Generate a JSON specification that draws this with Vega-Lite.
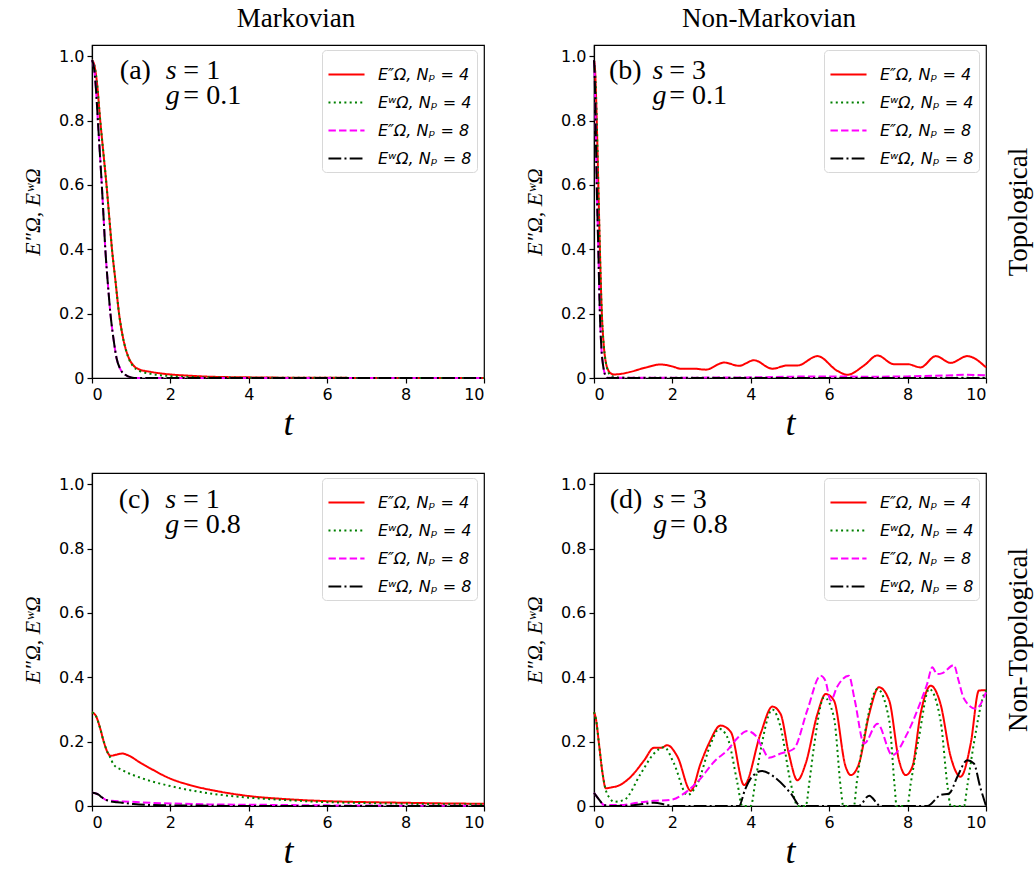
{
  "$schema": "https://vega.github.io/schema/vega-lite/v6.json",
  "background": "white",
  "padding": {"left": 20, "top": 4, "right": 5, "bottom": 5},
  "config": {
    "font": "DejaVu Sans",
    "view": {"stroke": "black", "strokeWidth": 1.2},
    "axis": {"grid": false, "labelFont": "DejaVu Sans", "labelFontSize": 16, "labelColor": "black", "tickColor": "black", "domainColor": "black", "domainWidth": 1.2, "tickSize": 5, "tickWidth": 1.2, "labelPadding": 3, "titleFont": "Liberation Serif", "titleFontStyle": "italic", "titleFontWeight": "normal", "titleColor": "black"},
    "legend": {"orient": "none", "legendX": 230, "legendY": 5, "labelFont": "DejaVu Sans", "labelFontSize": 16, "labelFontStyle": "italic", "labelColor": "black", "symbolType": "stroke", "symbolSize": 1300, "symbolStrokeWidth": 2, "fillColor": "white", "strokeColor": "#d8d8d8", "cornerRadius": 4, "padding": 5, "labelOffset": 12, "rowPadding": -2.2},
    "title": {"font": "Liberation Serif", "fontSize": 27, "fontWeight": "normal", "color": "black", "anchor": "middle"}
  },
  "datasets": {
    "a": [
      {"s":"r","t":0,"v":0.988},{"s":"r","t":0.06,"v":0.972},{"s":"r","t":0.12,"v":0.925},{"s":"r","t":0.21,"v":0.8},{"s":"r","t":0.29,"v":0.7},{"s":"r","t":0.37,"v":0.6},{"s":"r","t":0.44,"v":0.5},{"s":"r","t":0.51,"v":0.4},{"s":"r","t":0.6,"v":0.3},{"s":"r","t":0.69,"v":0.2},{"s":"r","t":0.8,"v":0.12},{"s":"r","t":0.92,"v":0.068},{"s":"r","t":1.05,"v":0.04},{"s":"r","t":1.2,"v":0.027},{"s":"r","t":1.5,"v":0.019},{"s":"r","t":2,"v":0.011},{"s":"r","t":2.5,"v":0.007},{"s":"r","t":3,"v":0.004},{"s":"r","t":4,"v":0.002},{"s":"r","t":6,"v":0.0005},{"s":"r","t":10,"v":0},
      {"s":"g","t":0,"v":0.988},{"s":"g","t":0.06,"v":0.972},{"s":"g","t":0.12,"v":0.925},{"s":"g","t":0.21,"v":0.8},{"s":"g","t":0.29,"v":0.7},{"s":"g","t":0.37,"v":0.6},{"s":"g","t":0.44,"v":0.5},{"s":"g","t":0.51,"v":0.4},{"s":"g","t":0.6,"v":0.3},{"s":"g","t":0.69,"v":0.2},{"s":"g","t":0.8,"v":0.12},{"s":"g","t":0.92,"v":0.066},{"s":"g","t":1.05,"v":0.036},{"s":"g","t":1.2,"v":0.023},{"s":"g","t":1.5,"v":0.013},{"s":"g","t":2,"v":0.006},{"s":"g","t":3,"v":0.002},{"s":"g","t":4,"v":0.001},{"s":"g","t":10,"v":0},
      {"s":"m","t":0,"v":0.988},{"s":"m","t":0.05,"v":0.965},{"s":"m","t":0.1,"v":0.9},{"s":"m","t":0.15,"v":0.8},{"s":"m","t":0.2,"v":0.7},{"s":"m","t":0.25,"v":0.6},{"s":"m","t":0.295,"v":0.5},{"s":"m","t":0.34,"v":0.4},{"s":"m","t":0.4,"v":0.3},{"s":"m","t":0.47,"v":0.2},{"s":"m","t":0.55,"v":0.12},{"s":"m","t":0.63,"v":0.06},{"s":"m","t":0.73,"v":0.026},{"s":"m","t":0.85,"v":0.01},{"s":"m","t":1,"v":0.002},{"s":"m","t":1.15,"v":0},{"s":"m","t":10,"v":0},
      {"s":"k","t":0,"v":0.988},{"s":"k","t":0.05,"v":0.965},{"s":"k","t":0.1,"v":0.9},{"s":"k","t":0.15,"v":0.8},{"s":"k","t":0.2,"v":0.7},{"s":"k","t":0.25,"v":0.6},{"s":"k","t":0.295,"v":0.5},{"s":"k","t":0.34,"v":0.4},{"s":"k","t":0.4,"v":0.3},{"s":"k","t":0.47,"v":0.2},{"s":"k","t":0.55,"v":0.12},{"s":"k","t":0.63,"v":0.06},{"s":"k","t":0.73,"v":0.026},{"s":"k","t":0.85,"v":0.01},{"s":"k","t":1,"v":0.002},{"s":"k","t":1.15,"v":0},{"s":"k","t":10,"v":0}
    ],
    "b": [
      {"s":"r","t":0,"v":0.988},{"s":"r","t":0.03,"v":0.95},{"s":"r","t":0.07,"v":0.8},{"s":"r","t":0.11,"v":0.6},{"s":"r","t":0.15,"v":0.4},{"s":"r","t":0.2,"v":0.2},{"s":"r","t":0.25,"v":0.1},{"s":"r","t":0.3,"v":0.05},{"s":"r","t":0.36,"v":0.025},{"s":"r","t":0.42,"v":0.015},{"s":"r","t":0.51,"v":0.011},{"s":"r","t":0.7,"v":0.013},{"s":"r","t":0.93,"v":0.019},{"s":"r","t":1.3,"v":0.032},{"s":"r","t":1.7,"v":0.042},{"s":"r","t":2.0,"v":0.036},{"s":"r","t":2.21,"v":0.029},{"s":"r","t":2.55,"v":0.029},{"s":"r","t":2.85,"v":0.026},{"s":"r","t":3.32,"v":0.048},{"s":"r","t":3.7,"v":0.038},{"s":"r","t":4.08,"v":0.055},{"s":"r","t":4.55,"v":0.029},{"s":"r","t":4.93,"v":0.039},{"s":"r","t":5.19,"v":0.039},{"s":"r","t":5.7,"v":0.068},{"s":"r","t":6.21,"v":0.022},{"s":"r","t":6.46,"v":0.01},{"s":"r","t":6.89,"v":0.039},{"s":"r","t":7.23,"v":0.07},{"s":"r","t":7.65,"v":0.043},{"s":"r","t":8.0,"v":0.043},{"s":"r","t":8.33,"v":0.033},{"s":"r","t":8.72,"v":0.068},{"s":"r","t":9.1,"v":0.047},{"s":"r","t":9.52,"v":0.068},{"s":"r","t":10,"v":0.033},
      {"s":"g","t":0,"v":0.988},{"s":"g","t":0.03,"v":0.95},{"s":"g","t":0.07,"v":0.8},{"s":"g","t":0.11,"v":0.6},{"s":"g","t":0.15,"v":0.4},{"s":"g","t":0.2,"v":0.2},{"s":"g","t":0.25,"v":0.1},{"s":"g","t":0.3,"v":0.05},{"s":"g","t":0.36,"v":0.02},{"s":"g","t":0.45,"v":0.006},{"s":"g","t":0.6,"v":0.002},{"s":"g","t":1,"v":0.001},{"s":"g","t":10,"v":0.001},
      {"s":"m","t":0,"v":0.988},{"s":"m","t":0.02,"v":0.93},{"s":"m","t":0.04,"v":0.8},{"s":"m","t":0.07,"v":0.6},{"s":"m","t":0.11,"v":0.4},{"s":"m","t":0.15,"v":0.2},{"s":"m","t":0.19,"v":0.09},{"s":"m","t":0.22,"v":0.05},{"s":"m","t":0.26,"v":0.02},{"s":"m","t":0.3,"v":0.006},{"s":"m","t":0.35,"v":0.001},{"s":"m","t":2,"v":0.001},{"s":"m","t":4,"v":0.002},{"s":"m","t":5,"v":0.004},{"s":"m","t":6,"v":0.005},{"s":"m","t":7,"v":0.004},{"s":"m","t":8,"v":0.005},{"s":"m","t":9,"v":0.008},{"s":"m","t":9.5,"v":0.01},{"s":"m","t":10,"v":0.008},
      {"s":"k","t":0,"v":0.988},{"s":"k","t":0.02,"v":0.93},{"s":"k","t":0.04,"v":0.8},{"s":"k","t":0.07,"v":0.6},{"s":"k","t":0.11,"v":0.4},{"s":"k","t":0.15,"v":0.2},{"s":"k","t":0.19,"v":0.09},{"s":"k","t":0.22,"v":0.05},{"s":"k","t":0.26,"v":0.02},{"s":"k","t":0.3,"v":0.005},{"s":"k","t":0.35,"v":0},{"s":"k","t":10,"v":0}
    ],
    "c": [
      {"s":"r","t":0,"v":0.291},{"s":"r","t":0.1,"v":0.28},{"s":"r","t":0.2,"v":0.245},{"s":"r","t":0.3,"v":0.2},{"s":"r","t":0.4,"v":0.166},{"s":"r","t":0.47,"v":0.156},{"s":"r","t":0.6,"v":0.159},{"s":"r","t":0.77,"v":0.163},{"s":"r","t":0.95,"v":0.156},{"s":"r","t":1.2,"v":0.137},{"s":"r","t":1.5,"v":0.116},{"s":"r","t":2,"v":0.085},{"s":"r","t":2.5,"v":0.065},{"s":"r","t":3.2,"v":0.046},{"s":"r","t":4,"v":0.031},{"s":"r","t":5,"v":0.021},{"s":"r","t":6,"v":0.015},{"s":"r","t":7,"v":0.012},{"s":"r","t":8,"v":0.01},{"s":"r","t":9,"v":0.008},{"s":"r","t":10,"v":0.007},
      {"s":"g","t":0,"v":0.291},{"s":"g","t":0.1,"v":0.28},{"s":"g","t":0.2,"v":0.245},{"s":"g","t":0.3,"v":0.2},{"s":"g","t":0.4,"v":0.166},{"s":"g","t":0.47,"v":0.15},{"s":"g","t":0.55,"v":0.129},{"s":"g","t":0.8,"v":0.11},{"s":"g","t":1.28,"v":0.086},{"s":"g","t":2,"v":0.062},{"s":"g","t":2.6,"v":0.047},{"s":"g","t":3.2,"v":0.036},{"s":"g","t":4,"v":0.026},{"s":"g","t":5,"v":0.018},{"s":"g","t":6,"v":0.012},{"s":"g","t":7,"v":0.009},{"s":"g","t":8,"v":0.007},{"s":"g","t":10,"v":0.005},
      {"s":"m","t":0,"v":0.041},{"s":"m","t":0.1,"v":0.039},{"s":"m","t":0.17,"v":0.035},{"s":"m","t":0.25,"v":0.027},{"s":"m","t":0.34,"v":0.02},{"s":"m","t":0.5,"v":0.016},{"s":"m","t":0.8,"v":0.014},{"s":"m","t":1,"v":0.013},{"s":"m","t":1.5,"v":0.01},{"s":"m","t":2,"v":0.008},{"s":"m","t":3,"v":0.005},{"s":"m","t":4,"v":0.004},{"s":"m","t":6,"v":0.002},{"s":"m","t":8,"v":0.001},{"s":"m","t":10,"v":0.001},
      {"s":"k","t":0,"v":0.041},{"s":"k","t":0.1,"v":0.039},{"s":"k","t":0.17,"v":0.035},{"s":"k","t":0.25,"v":0.027},{"s":"k","t":0.34,"v":0.02},{"s":"k","t":0.45,"v":0.015},{"s":"k","t":0.64,"v":0.012},{"s":"k","t":1.06,"v":0.006},{"s":"k","t":1.5,"v":0.003},{"s":"k","t":2,"v":0.002},{"s":"k","t":3,"v":0.001},{"s":"k","t":4,"v":0},{"s":"k","t":10,"v":0}
    ],
    "d": [
      {"s":"r","t":0,"v":0.292},{"s":"r","t":0.05,"v":0.27},{"s":"r","t":0.13,"v":0.19},{"s":"r","t":0.22,"v":0.1},{"s":"r","t":0.3,"v":0.055},{"s":"r","t":0.45,"v":0.058},{"s":"r","t":0.6,"v":0.062},{"s":"r","t":0.94,"v":0.091},{"s":"r","t":1.28,"v":0.142},{"s":"r","t":1.53,"v":0.181},{"s":"r","t":1.72,"v":0.181},{"s":"r","t":1.87,"v":0.189},{"s":"r","t":2.13,"v":0.153},{"s":"r","t":2.47,"v":0.047},{"s":"r","t":2.72,"v":0.132},{"s":"r","t":2.93,"v":0.194},{"s":"r","t":3.23,"v":0.25},{"s":"r","t":3.49,"v":0.23},{"s":"r","t":3.83,"v":0.065},{"s":"r","t":4.25,"v":0.225},{"s":"r","t":4.55,"v":0.309},{"s":"r","t":4.76,"v":0.286},{"s":"r","t":4.97,"v":0.163},{"s":"r","t":5.19,"v":0.08},{"s":"r","t":5.4,"v":0.132},{"s":"r","t":5.7,"v":0.286},{"s":"r","t":5.91,"v":0.348},{"s":"r","t":6.12,"v":0.328},{"s":"r","t":6.42,"v":0.122},{"s":"r","t":6.55,"v":0.096},{"s":"r","t":6.76,"v":0.132},{"s":"r","t":7.02,"v":0.286},{"s":"r","t":7.27,"v":0.369},{"s":"r","t":7.53,"v":0.328},{"s":"r","t":7.78,"v":0.142},{"s":"r","t":7.95,"v":0.096},{"s":"r","t":8.12,"v":0.122},{"s":"r","t":8.33,"v":0.286},{"s":"r","t":8.59,"v":0.374},{"s":"r","t":8.84,"v":0.317},{"s":"r","t":9.1,"v":0.153},{"s":"r","t":9.35,"v":0.091},{"s":"r","t":9.61,"v":0.194},{"s":"r","t":9.82,"v":0.359},{"s":"r","t":10,"v":0.36},
      {"s":"g","t":0,"v":0.292},{"s":"g","t":0.05,"v":0.27},{"s":"g","t":0.13,"v":0.19},{"s":"g","t":0.22,"v":0.1},{"s":"g","t":0.3,"v":0.05},{"s":"g","t":0.4,"v":0.025},{"s":"g","t":0.51,"v":0.013},{"s":"g","t":0.77,"v":0.019},{"s":"g","t":1.19,"v":0.1},{"s":"g","t":1.53,"v":0.163},{"s":"g","t":1.79,"v":0.183},{"s":"g","t":2.04,"v":0.132},{"s":"g","t":2.38,"v":0.034},{"s":"g","t":2.64,"v":0.07},{"s":"g","t":2.98,"v":0.194},{"s":"g","t":3.19,"v":0.24},{"s":"g","t":3.4,"v":0.214},{"s":"g","t":3.66,"v":0.07},{"s":"g","t":3.78,"v":0},{"s":"g","t":4.0,"v":0},{"s":"g","t":4.12,"v":0.08},{"s":"g","t":4.25,"v":0.173},{"s":"g","t":4.55,"v":0.3},{"s":"g","t":4.76,"v":0.245},{"s":"g","t":5.02,"v":0.07},{"s":"g","t":5.2,"v":0},{"s":"g","t":5.4,"v":0},{"s":"g","t":5.5,"v":0.08},{"s":"g","t":5.61,"v":0.183},{"s":"g","t":5.87,"v":0.338},{"s":"g","t":6.12,"v":0.276},{"s":"g","t":6.3,"v":0.05},{"s":"g","t":6.36,"v":0},{"s":"g","t":6.63,"v":0},{"s":"g","t":6.7,"v":0.07},{"s":"g","t":6.89,"v":0.214},{"s":"g","t":7.23,"v":0.364},{"s":"g","t":7.53,"v":0.266},{"s":"g","t":7.67,"v":0.06},{"s":"g","t":7.72,"v":0},{"s":"g","t":7.99,"v":0},{"s":"g","t":8.08,"v":0.07},{"s":"g","t":8.29,"v":0.214},{"s":"g","t":8.55,"v":0.364},{"s":"g","t":8.84,"v":0.266},{"s":"g","t":9.02,"v":0.06},{"s":"g","t":9.1,"v":0},{"s":"g","t":9.44,"v":0},{"s":"g","t":9.52,"v":0.06},{"s":"g","t":9.69,"v":0.194},{"s":"g","t":9.95,"v":0.348},{"s":"g","t":10,"v":0.36},
      {"s":"m","t":0,"v":0.041},{"s":"m","t":0.13,"v":0.02},{"s":"m","t":0.26,"v":0.003},{"s":"m","t":0.68,"v":0.003},{"s":"m","t":1.11,"v":0.01},{"s":"m","t":1.53,"v":0.016},{"s":"m","t":1.96,"v":0.019},{"s":"m","t":2.3,"v":0.039},{"s":"m","t":2.64,"v":0.075},{"s":"m","t":3.1,"v":0.142},{"s":"m","t":3.4,"v":0.173},{"s":"m","t":3.65,"v":0.21},{"s":"m","t":3.91,"v":0.233},{"s":"m","t":4.12,"v":0.219},{"s":"m","t":4.3,"v":0.18},{"s":"m","t":4.46,"v":0.15},{"s":"m","t":4.76,"v":0.163},{"s":"m","t":5.1,"v":0.178},{"s":"m","t":5.44,"v":0.297},{"s":"m","t":5.78,"v":0.405},{"s":"m","t":5.9,"v":0.39},{"s":"m","t":6.04,"v":0.328},{"s":"m","t":6.2,"v":0.37},{"s":"m","t":6.5,"v":0.405},{"s":"m","t":6.65,"v":0.33},{"s":"m","t":6.89,"v":0.194},{"s":"m","t":7.23,"v":0.256},{"s":"m","t":7.61,"v":0.158},{"s":"m","t":7.99,"v":0.225},{"s":"m","t":8.33,"v":0.323},{"s":"m","t":8.5,"v":0.38},{"s":"m","t":8.63,"v":0.431},{"s":"m","t":8.75,"v":0.41},{"s":"m","t":8.89,"v":0.413},{"s":"m","t":9.18,"v":0.438},{"s":"m","t":9.3,"v":0.39},{"s":"m","t":9.44,"v":0.333},{"s":"m","t":9.74,"v":0.302},{"s":"m","t":10,"v":0.353},
      {"s":"k","t":0,"v":0.041},{"s":"k","t":0.13,"v":0.02},{"s":"k","t":0.26,"v":0.003},{"s":"k","t":0.4,"v":0},{"s":"k","t":1,"v":0.002},{"s":"k","t":1.53,"v":0.01},{"s":"k","t":1.87,"v":0.003},{"s":"k","t":2.04,"v":0},{"s":"k","t":3.7,"v":0},{"s":"k","t":3.85,"v":0.05},{"s":"k","t":4,"v":0.086},{"s":"k","t":4.29,"v":0.109},{"s":"k","t":4.59,"v":0.091},{"s":"k","t":5.02,"v":0.039},{"s":"k","t":5.27,"v":0},{"s":"k","t":6.75,"v":0},{"s":"k","t":7.02,"v":0.032},{"s":"k","t":7.31,"v":0},{"s":"k","t":8.5,"v":0},{"s":"k","t":8.84,"v":0.034},{"s":"k","t":9.06,"v":0.039},{"s":"k","t":9.27,"v":0.091},{"s":"k","t":9.52,"v":0.142},{"s":"k","t":9.69,"v":0.132},{"s":"k","t":9.85,"v":0.06},{"s":"k","t":10,"v":0}
    ]
  },
  "resolve": {"scale": {"color": "independent", "strokeDash": "independent"}, "legend": {"color": "independent", "strokeDash": "independent"}},
  "spacing": 30,
  "vconcat": [
    {
      "resolve": {"scale": {"color": "independent", "strokeDash": "independent"}, "legend": {"color": "independent", "strokeDash": "independent"}},
      "spacing": 33,
      "hconcat": [
        {
          "title": {"text": "Markovian", "dx": 8, "offset": 12},
          "width": 392, "height": 333,
          "data": {"name": "a"},
          "layer": [
            {"mark": {"type": "line", "strokeWidth": 2, "interpolate": "monotone"},
             "encoding": {
               "x": {"field": "t", "type": "quantitative", "scale": {"domain": [0, 10], "nice": false}, "axis": {"values": [0, 2, 4, 6, 8, 10], "title": "t", "titleFontSize": 36, "titlePadding": 4}},
               "y": {"field": "v", "type": "quantitative", "scale": {"domain": [0, 1.035], "nice": false}, "axis": {"values": [0, 0.2, 0.4, 0.6, 0.8, 1.0], "labelExpr": "datum.value == 0 ? '0' : format(datum.value, '.1f')", "title": "E″Ω, EʷΩ", "titleFontSize": 22, "titlePadding": 14}},
               "color": {"field": "s", "type": "nominal", "scale": {"domain": ["r", "g", "m", "k"], "range": ["#ff0000", "#008000", "#ff00ff", "#000000"]}, "legend": {"title": null, "labelExpr": "datum.value == 'r' ? 'E″Ω, Nₚ = 4' : datum.value == 'g' ? 'EʷΩ, Nₚ = 4' : datum.value == 'm' ? 'E″Ω, Nₚ = 8' : 'EʷΩ, Nₚ = 8'"}},
               "strokeDash": {"field": "s", "type": "nominal", "scale": {"domain": ["r", "g", "m", "k"], "range": [[1, 0], [2, 3.3], [7.4, 3.2], [12.8, 3.2, 2, 3.2]]}, "legend": {"title": null, "labelExpr": "datum.value == 'r' ? 'E″Ω, Nₚ = 4' : datum.value == 'g' ? 'EʷΩ, Nₚ = 4' : datum.value == 'm' ? 'E″Ω, Nₚ = 8' : 'EʷΩ, Nₚ = 8'"}}
             }},
            {"data": {"values": [{}]}, "mark": {"type": "text", "font": "Liberation Serif", "fontSize": 28, "align": "left", "baseline": "alphabetic", "color": "black"}, "encoding": {"x": {"datum": 0.71}, "y": {"datum": 0.929}, "text": {"value": "(a)"}}},
            {"data": {"values": [{}]}, "mark": {"type": "text", "font": "Liberation Serif", "fontStyle": "italic", "fontSize": 28, "align": "left", "baseline": "alphabetic", "lineHeight": 24.4, "color": "black"}, "encoding": {"x": {"datum": 1.88}, "y": {"datum": 0.929}, "text": {"value": ["s", "g"]}}},
            {"data": {"values": [{}]}, "mark": {"type": "text", "font": "Liberation Serif", "fontSize": 28, "align": "left", "baseline": "alphabetic", "lineHeight": 24.4, "color": "black"}, "encoding": {"x": {"datum": 2.33}, "y": {"datum": 0.929}, "text": {"value": ["= 1", "= 0.1"]}}}
          ]
        },
        {
          "title": {"text": "Non-Markovian", "dx": -21, "offset": 12},
          "width": 392, "height": 333,
          "resolve": {"scale": {"y": "independent"}, "axis": {"y": "independent"}},
          "layer": [
            {
              "data": {"name": "b"},
              "layer": [
                {"mark": {"type": "line", "strokeWidth": 2, "interpolate": "monotone"},
                 "encoding": {
                   "x": {"field": "t", "type": "quantitative", "scale": {"domain": [0, 10], "nice": false}, "axis": {"values": [0, 2, 4, 6, 8, 10], "title": "t", "titleFontSize": 36, "titlePadding": 4}},
                   "y": {"field": "v", "type": "quantitative", "scale": {"domain": [0, 1.035], "nice": false}, "axis": {"values": [0, 0.2, 0.4, 0.6, 0.8, 1.0], "labelExpr": "datum.value == 0 ? '0' : format(datum.value, '.1f')", "title": "E″Ω, EʷΩ", "titleFontSize": 22, "titlePadding": 14}},
                   "color": {"field": "s", "type": "nominal", "scale": {"domain": ["r", "g", "m", "k"], "range": ["#ff0000", "#008000", "#ff00ff", "#000000"]}, "legend": {"title": null, "labelExpr": "datum.value == 'r' ? 'E″Ω, Nₚ = 4' : datum.value == 'g' ? 'EʷΩ, Nₚ = 4' : datum.value == 'm' ? 'E″Ω, Nₚ = 8' : 'EʷΩ, Nₚ = 8'"}},
                   "strokeDash": {"field": "s", "type": "nominal", "scale": {"domain": ["r", "g", "m", "k"], "range": [[1, 0], [2, 3.3], [7.4, 3.2], [12.8, 3.2, 2, 3.2]]}, "legend": {"title": null, "labelExpr": "datum.value == 'r' ? 'E″Ω, Nₚ = 4' : datum.value == 'g' ? 'EʷΩ, Nₚ = 4' : datum.value == 'm' ? 'E″Ω, Nₚ = 8' : 'EʷΩ, Nₚ = 8'"}}
                 }},
                {"data": {"values": [{}]}, "mark": {"type": "text", "font": "Liberation Serif", "fontSize": 28, "align": "left", "baseline": "alphabetic", "color": "black"}, "encoding": {"x": {"datum": 0.38}, "y": {"datum": 0.929}, "text": {"value": "(b)"}}},
                {"data": {"values": [{}]}, "mark": {"type": "text", "font": "Liberation Serif", "fontStyle": "italic", "fontSize": 28, "align": "left", "baseline": "alphabetic", "lineHeight": 24.4, "color": "black"}, "encoding": {"x": {"datum": 1.49}, "y": {"datum": 0.929}, "text": {"value": ["s", "g"]}}},
                {"data": {"values": [{}]}, "mark": {"type": "text", "font": "Liberation Serif", "fontSize": 28, "align": "left", "baseline": "alphabetic", "lineHeight": 24.4, "color": "black"}, "encoding": {"x": {"datum": 1.92}, "y": {"datum": 0.929}, "text": {"value": ["= 3", "= 0.1"]}}}
              ]
            },
            {"data": {"values": [{}]}, "mark": {"type": "rule", "opacity": 0}, "encoding": {"y": {"datum": 0.5, "type": "quantitative", "scale": {"domain": [0, 1]}, "axis": {"orient": "right", "title": "Topological", "labels": false, "ticks": false, "domain": false, "titleFont": "Liberation Serif", "titleFontStyle": "normal", "titleFontSize": 27, "titleAngle": 270, "titleBaseline": "top", "titlePadding": 19}}}}
          ]
        }
      ]
    },
    {
      "resolve": {"scale": {"color": "independent", "strokeDash": "independent"}, "legend": {"color": "independent", "strokeDash": "independent"}},
      "spacing": 33,
      "hconcat": [
        {
          "width": 392, "height": 333,
          "data": {"name": "c"},
          "layer": [
            {"mark": {"type": "line", "strokeWidth": 2, "interpolate": "monotone"},
             "encoding": {
               "x": {"field": "t", "type": "quantitative", "scale": {"domain": [0, 10], "nice": false}, "axis": {"values": [0, 2, 4, 6, 8, 10], "title": "t", "titleFontSize": 36, "titlePadding": 4}},
               "y": {"field": "v", "type": "quantitative", "scale": {"domain": [0, 1.035], "nice": false}, "axis": {"values": [0, 0.2, 0.4, 0.6, 0.8, 1.0], "labelExpr": "datum.value == 0 ? '0' : format(datum.value, '.1f')", "title": "E″Ω, EʷΩ", "titleFontSize": 22, "titlePadding": 14}},
               "color": {"field": "s", "type": "nominal", "scale": {"domain": ["r", "g", "m", "k"], "range": ["#ff0000", "#008000", "#ff00ff", "#000000"]}, "legend": {"title": null, "labelExpr": "datum.value == 'r' ? 'E″Ω, Nₚ = 4' : datum.value == 'g' ? 'EʷΩ, Nₚ = 4' : datum.value == 'm' ? 'E″Ω, Nₚ = 8' : 'EʷΩ, Nₚ = 8'"}},
               "strokeDash": {"field": "s", "type": "nominal", "scale": {"domain": ["r", "g", "m", "k"], "range": [[1, 0], [2, 3.3], [7.4, 3.2], [12.8, 3.2, 2, 3.2]]}, "legend": {"title": null, "labelExpr": "datum.value == 'r' ? 'E″Ω, Nₚ = 4' : datum.value == 'g' ? 'EʷΩ, Nₚ = 4' : datum.value == 'm' ? 'E″Ω, Nₚ = 8' : 'EʷΩ, Nₚ = 8'"}}
             }},
            {"data": {"values": [{}]}, "mark": {"type": "text", "font": "Liberation Serif", "fontSize": 28, "align": "left", "baseline": "alphabetic", "color": "black"}, "encoding": {"x": {"datum": 0.68}, "y": {"datum": 0.926}, "text": {"value": "(c)"}}},
            {"data": {"values": [{}]}, "mark": {"type": "text", "font": "Liberation Serif", "fontStyle": "italic", "fontSize": 28, "align": "left", "baseline": "alphabetic", "lineHeight": 25, "color": "black"}, "encoding": {"x": {"datum": 1.87}, "y": {"datum": 0.926}, "text": {"value": ["s", "g"]}}},
            {"data": {"values": [{}]}, "mark": {"type": "text", "font": "Liberation Serif", "fontSize": 28, "align": "left", "baseline": "alphabetic", "lineHeight": 25, "color": "black"}, "encoding": {"x": {"datum": 2.32}, "y": {"datum": 0.926}, "text": {"value": ["= 1", "= 0.8"]}}}
          ]
        },
        {
          "width": 392, "height": 333,
          "resolve": {"scale": {"y": "independent"}, "axis": {"y": "independent"}},
          "layer": [
            {
              "data": {"name": "d"},
              "layer": [
                {"mark": {"type": "line", "strokeWidth": 2, "interpolate": "monotone"},
                 "encoding": {
                   "x": {"field": "t", "type": "quantitative", "scale": {"domain": [0, 10], "nice": false}, "axis": {"values": [0, 2, 4, 6, 8, 10], "title": "t", "titleFontSize": 36, "titlePadding": 4}},
                   "y": {"field": "v", "type": "quantitative", "scale": {"domain": [0, 1.035], "nice": false}, "axis": {"values": [0, 0.2, 0.4, 0.6, 0.8, 1.0], "labelExpr": "datum.value == 0 ? '0' : format(datum.value, '.1f')", "title": "E″Ω, EʷΩ", "titleFontSize": 22, "titlePadding": 14}},
                   "color": {"field": "s", "type": "nominal", "scale": {"domain": ["r", "g", "m", "k"], "range": ["#ff0000", "#008000", "#ff00ff", "#000000"]}, "legend": {"title": null, "labelExpr": "datum.value == 'r' ? 'E″Ω, Nₚ = 4' : datum.value == 'g' ? 'EʷΩ, Nₚ = 4' : datum.value == 'm' ? 'E″Ω, Nₚ = 8' : 'EʷΩ, Nₚ = 8'"}},
                   "strokeDash": {"field": "s", "type": "nominal", "scale": {"domain": ["r", "g", "m", "k"], "range": [[1, 0], [2, 3.3], [7.4, 3.2], [12.8, 3.2, 2, 3.2]]}, "legend": {"title": null, "labelExpr": "datum.value == 'r' ? 'E″Ω, Nₚ = 4' : datum.value == 'g' ? 'EʷΩ, Nₚ = 4' : datum.value == 'm' ? 'E″Ω, Nₚ = 8' : 'EʷΩ, Nₚ = 8'"}}
                 }},
                {"data": {"values": [{}]}, "mark": {"type": "text", "font": "Liberation Serif", "fontSize": 28, "align": "left", "baseline": "alphabetic", "color": "black"}, "encoding": {"x": {"datum": 0.4}, "y": {"datum": 0.926}, "text": {"value": "(d)"}}},
                {"data": {"values": [{}]}, "mark": {"type": "text", "font": "Liberation Serif", "fontStyle": "italic", "fontSize": 28, "align": "left", "baseline": "alphabetic", "lineHeight": 25, "color": "black"}, "encoding": {"x": {"datum": 1.51}, "y": {"datum": 0.926}, "text": {"value": ["s", "g"]}}},
                {"data": {"values": [{}]}, "mark": {"type": "text", "font": "Liberation Serif", "fontSize": 28, "align": "left", "baseline": "alphabetic", "lineHeight": 25, "color": "black"}, "encoding": {"x": {"datum": 1.94}, "y": {"datum": 0.926}, "text": {"value": ["= 3", "= 0.8"]}}}
              ]
            },
            {"data": {"values": [{}]}, "mark": {"type": "rule", "opacity": 0}, "encoding": {"y": {"datum": 0.5, "type": "quantitative", "scale": {"domain": [0, 1]}, "axis": {"orient": "right", "title": "Non-Topological", "labels": false, "ticks": false, "domain": false, "titleFont": "Liberation Serif", "titleFontStyle": "normal", "titleFontSize": 27, "titleAngle": 270, "titleBaseline": "top", "titlePadding": 19}}}}
          ]
        }
      ]
    }
  ]
}
